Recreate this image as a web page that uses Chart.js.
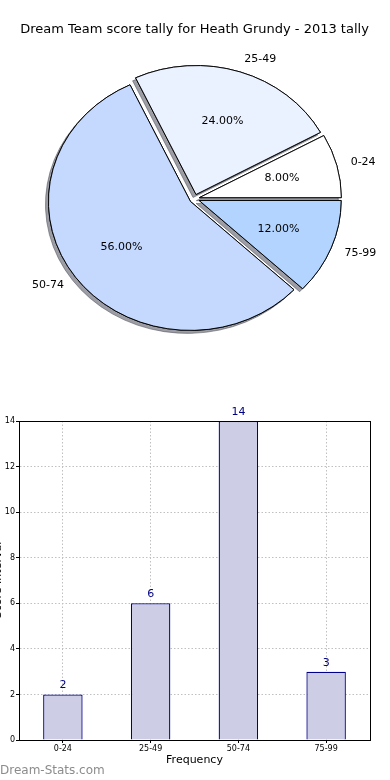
<!DOCTYPE html>
<html>
<head>
  <title>Dream Team score tally - Heath Grundy 2013</title>
  <script src="https://cdn.jsdelivr.net/npm/chart.js"></script>
  <style>
    body { margin: 0; background: #fff; width: 390px; height: 780px; position: relative; overflow: hidden; }
    #pieBox { position: absolute; left: 0; top: 0; width: 390px; height: 395px; }
    #barBox { position: absolute; left: 0; top: 395px; width: 390px; height: 385px; }
    #mark { position: absolute; left: 0; top: 762px; font: 12px 'DejaVu Sans'; line-height: 16px; color: #8c8c8c; }
  </style>
</head>
<body>
  <div id="pieBox"><canvas id="pie"></canvas></div>
  <div id="barBox"><canvas id="bar"></canvas></div>
  <div id="mark">Dream-Stats.com</div>

  <script>
    // score buckets and how many games fell in each
    const categories = ['0-24', '25-49', '50-74', '75-99'];
    const counts = [2, 6, 14, 3];
    const pieColors = ['#ffffff', '#eaf1ff', '#c5d9ff', '#b3d4ff'];
    const yTicks = [0, 2, 4, 6, 8, 10, 12, 14];

    Chart.defaults.font.family = 'DejaVu Sans';
    Chart.defaults.color = '#000';

    const total = counts.reduce((a, b) => a + b, 0);
    const squash = 0.908; // matplotlib pie is not drawn with equal axes
    const explode = 5;    // px each wedge is pushed out

    // pie goes counter-clockwise from 3 o'clock, so feed it reversed
    const pieLabels = categories.slice().reverse();
    const pieData = counts.slice().reverse();
    const pieFill = pieColors.slice().reverse();

    const pieShape = {
      id: 'pieShape',
      // draw the wedges ourselves: squashed, pushed out, shadows underneath
      beforeDatasetDraw(chart) {
        const arcs = chart.getDatasetMeta(0).data;
        const ctx = chart.ctx;
        const cx = arcs[0].x, cy = arcs[0].y;
        const drawAll = () => arcs.forEach(arc => {
          const mid = (arc.startAngle + arc.endAngle) / 2;
          ctx.save();
          ctx.translate(Math.cos(mid) * explode, Math.sin(mid) * explode);
          arc.draw(ctx);
          ctx.restore();
        });
        ctx.save();
        ctx.translate(cx, cy);
        ctx.scale(1, squash);
        ctx.translate(-cx, -cy);
        // pass 1 with shadow, pass 2 on top without
        ctx.save();
        ctx.shadowColor = 'rgba(60,62,75,0.5)';
        ctx.shadowOffsetX = -3;
        ctx.shadowOffsetY = 3;
        ctx.shadowBlur = 0;
        drawAll();
        ctx.restore();
        drawAll();
        ctx.restore();
        return false;
      },
      afterDatasetsDraw(chart) {
        const ctx = chart.ctx;
        ctx.save();
        ctx.font = '11px DejaVu Sans';
        ctx.fillStyle = '#000';
        ctx.textBaseline = 'middle';
        chart.getDatasetMeta(0).data.forEach((arc, i) => {
          const mid = (arc.startAngle + arc.endAngle) / 2;
          const r = arc.outerRadius;
          const c = Math.cos(mid), s = Math.sin(mid);
          // outer category label
          const lx = arc.x + (explode + 1.1 * r) * c;
          const ly = arc.y + (explode + 1.1 * r) * s * squash;
          ctx.textAlign = lx > arc.x ? 'left' : 'right';
          ctx.fillText(pieLabels[i], lx, ly);
          // percentage inside
          const px = arc.x + (explode + 0.6 * r) * c;
          const py = arc.y + (explode + 0.6 * r) * s * squash;
          ctx.textAlign = 'center';
          ctx.fillText((pieData[i] / total * 100).toFixed(2) + '%', px, py);
        });
        ctx.restore();
      }
    };

    new Chart(document.getElementById('pie'), {
      type: 'pie',
      data: {
        labels: pieLabels,
        datasets: [{
          data: pieData,
          backgroundColor: pieFill,
          borderColor: '#000',
          borderWidth: 1,
          radius: 142
        }]
      },
      options: {
        responsive: true,
        maintainAspectRatio: false,
        animation: false,
        rotation: 90,
        layout: { padding: { left: 0, right: 1, top: 0, bottom: 35 } },
        plugins: {
          legend: { display: false },
          tooltip: { enabled: false },
          title: {
            display: true,
            text: 'Dream Team score tally for Heath Grundy - 2013 tally',
            font: { size: 13, weight: 'normal' },
            color: '#000',
            padding: { top: 22, bottom: 0 }
          }
        }
      },
      plugins: [pieShape]
    });

    // bar chart: value labels, full frame and the clipped y title
    const barExtras = {
      id: 'barExtras',
      afterDatasetsDraw(chart) {
        const ctx = chart.ctx;
        const a = chart.chartArea;
        ctx.save();
        ctx.strokeStyle = '#000';
        ctx.lineWidth = 1;
        ctx.strokeRect(Math.round(a.left) + 0.5, Math.round(a.top) + 0.5,
          Math.round(a.right - a.left), Math.round(a.bottom - a.top));
        ctx.font = '11px DejaVu Sans';
        ctx.fillStyle = '#000080';
        ctx.textAlign = 'center';
        ctx.textBaseline = 'middle';
        chart.getDatasetMeta(0).data.forEach((bar, i) => {
          ctx.fillText(String(counts[i]), bar.x, bar.y - 9);
        });
        ctx.translate(1, 185);
        ctx.rotate(-Math.PI / 2);
        ctx.font = '11px DejaVu Sans';
        ctx.fillStyle = '#000';
        ctx.textBaseline = 'alphabetic';
        ctx.fillText('Score Interval', 0, 0);
        ctx.restore();
      }
    };

    new Chart(document.getElementById('bar'), {
      type: 'bar',
      data: {
        labels: categories,
        datasets: [{
          data: counts,
          backgroundColor: '#cdcde6',
          borderColor: '#00008b',
          borderWidth: 1.3,
          barPercentage: 0.45,
          categoryPercentage: 1
        }]
      },
      options: {
        responsive: true,
        maintainAspectRatio: false,
        animation: false,
        layout: { padding: { left: 0, right: 20, top: 26, bottom: 0 } },
        plugins: {
          legend: { display: false },
          tooltip: { enabled: false }
        },
        scales: {
          x: {
            offset: true,
            grid: { offset: false, color: '#c0c0c0', lineWidth: 1, tickLength: 3, tickColor: '#000', tickBorderDash: [] },
            border: { color: '#000', dash: [1.5, 2] },
            ticks: { font: { size: 8 }, padding: 1, maxRotation: 0, color: '#000' },
            title: { display: true, text: 'Frequency', font: { size: 11 }, color: '#000', padding: { top: 0, bottom: 13 } },
            afterFit(scale) { scale.height = 40; }
          },
          y: {
            min: 0,
            max: 14,
            afterBuildTicks(scale) { scale.ticks = yTicks.map(v => ({ value: v })); },
            grid: { color: '#c0c0c0', lineWidth: 1, tickLength: 3, tickColor: '#000', tickBorderDash: [] },
            border: { color: '#000', dash: [1.5, 2] },
            ticks: { font: { size: 8 }, padding: 1, color: '#000' },
            afterFit(scale) { scale.width = 19; }
          }
        }
      },
      plugins: [barExtras]
    });
  </script>
</body>
</html>
